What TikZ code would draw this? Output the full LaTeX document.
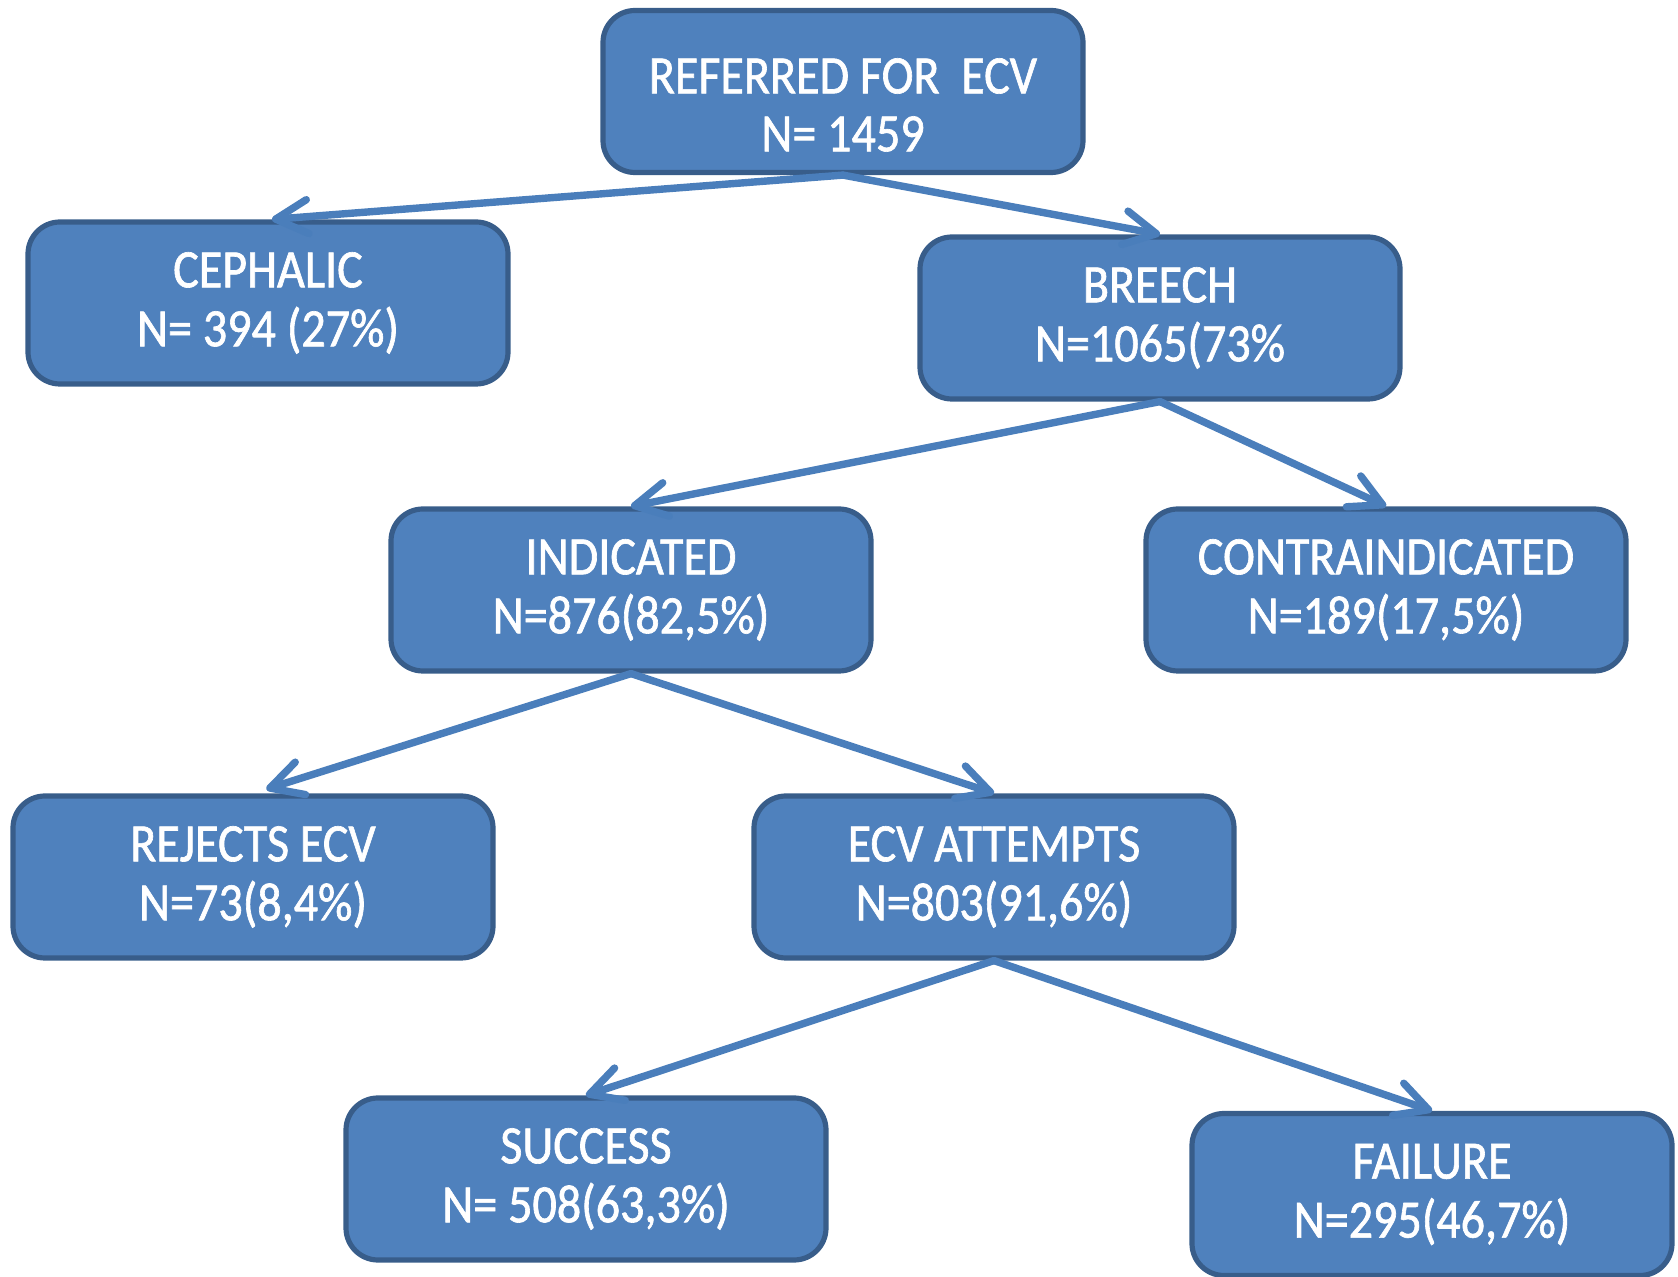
\documentclass[tikz,border=0pt]{standalone}
\usepackage{fontspec}
\setmainfont{Carlito}[FakeStretch=0.89, FakeBold=1.2]
\usetikzlibrary{arrows.meta}
\definecolor{boxfill}{HTML}{4F81BD}
\definecolor{boxline}{HTML}{385D8A}
\definecolor{conn}{HTML}{4A7EBB}
\tikzset{
  box/.style={draw=boxline, line width=2.6pt, fill=boxfill, rounded corners=16pt,
    minimum width=240pt, minimum height=81pt, inner sep=0pt, text=white,
    align=center, font=\fontsize{27pt}{29.5pt}\selectfont},
  txt/.style={text=white, align=center, inner sep=0pt, font=\fontsize{27pt}{29pt}\selectfont},
  conn/.style={draw=conn, line width=3.7pt, line cap=round,
    -{Straight Barb[length=16pt, width=17pt, line cap=round, line join=round]}}
}
\begin{document}
\begin{tikzpicture}[x=0.5pt, y=-0.5pt]
\useasboundingbox (0,0) rectangle (1678,1277);
\node[box] (ref) at (843,91.5) {};
\node[txt] (reftext) at (843,105) {REFERRED FOR\ \ ECV\\N= 1459};
\node[box] (ceph) at (268,303) {CEPHALIC\\N= 394 (27\%)};
\node[box] (breech) at (1160,318) {BREECH\\N=1065(73\%};
\node[box] (ind) at (631,590) {INDICATED\\N=876(82,5\%)};
\node[box] (contra) at (1386,590) {CONTRAINDICATED\\N=189(17,5\%)};
\node[box] (rej) at (253,877) {REJECTS ECV\\N=73(8,4\%)};
\node[box] (ecv) at (994,877) {ECV ATTEMPTS\\N=803(91,6\%)};
\node[box] (succ) at (586,1179) {SUCCESS\\N= 508(63,3\%)};
\node[box] (fail) at (1432,1194.5) {FAILURE\\N=295(46,7\%)};
\draw[conn] (ref.south) -- ([xshift=2pt]ceph.north);
\draw[conn] (ref.south) -- (breech.north);
\draw[conn] (breech.south) -- (ind.north);
\draw[conn] (breech.south) -- (contra.north);
\draw[conn, shorten >=7pt] (ind.south) -- (rej.north);
\draw[conn] (ind.south) -- (ecv.north);
\draw[conn] (ecv.south) -- (succ.north);
\draw[conn] (ecv.south) -- (fail.north);
\end{tikzpicture}
\end{document}
